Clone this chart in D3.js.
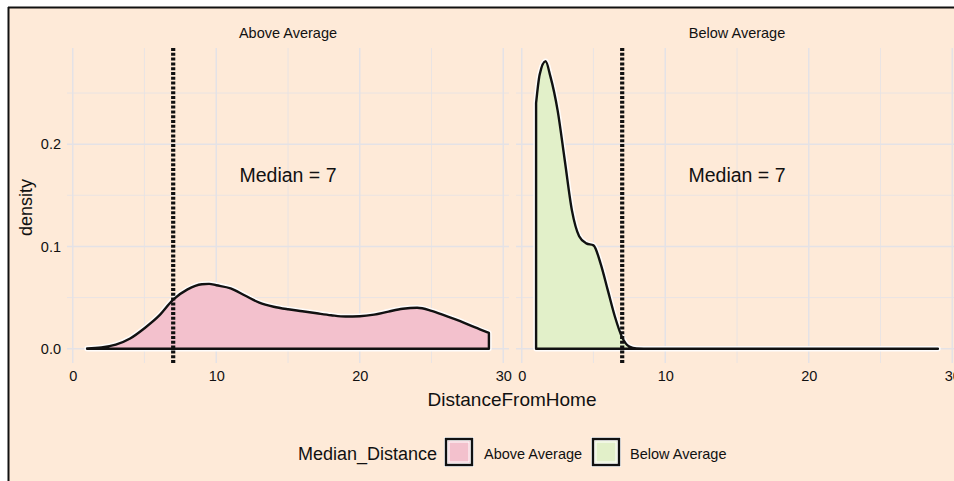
<!DOCTYPE html>
<html>
<head>
<meta charset="utf-8">
<script src="https://cdn.jsdelivr.net/npm/d3@7"></script>
<style>
  html, body { margin: 0; padding: 0; background: #ffffff; }
  svg { display: block; }
  text { font-family: "Liberation Sans", Arial, Helvetica, sans-serif; fill: #111; }
</style>
</head>
<body>
<svg id="chart" width="954" height="481"></svg>
<script>
// ---------------- DATA ----------------
const panels = ["Above Average", "Below Average"];
const medians = [7, 7];
const medianLabels = ["Median = 7", "Median = 7"];

const aboveX = [1, 2, 3, 4, 5, 6, 7, 8, 9, 9.5, 10, 11, 12, 13, 14, 15, 16, 17, 18, 19, 20, 21, 22, 23, 24, 25, 26, 27, 28, 29];
const aboveY = [0.0003, 0.0012, 0.004, 0.010, 0.020, 0.032, 0.048, 0.058, 0.063, 0.0634, 0.062, 0.059, 0.052, 0.045, 0.041, 0.0385, 0.0366, 0.0346, 0.0327, 0.0314, 0.0317, 0.0333, 0.0363, 0.039, 0.040, 0.037, 0.032, 0.027, 0.021, 0.0154];

const belowX = [1, 1.25, 1.66, 2, 2.5, 3, 3.5, 4, 4.5, 5, 5.5, 6, 6.5, 7, 7.5, 8, 9, 10, 12, 15, 20, 25, 29];
const belowY = [0.240, 0.268, 0.281, 0.266, 0.233, 0.184, 0.135, 0.110, 0.103, 0.101, 0.083, 0.057, 0.031, 0.011, 0.002, 0.0003, 0, 0, 0, 0, 0, 0, 0];

const xTicks = [0, 10, 20, 30];
const xMinor = [5, 15, 25];
const yTicks = [0.0, 0.1, 0.2];
const yMinor = [0.05, 0.15, 0.25];
const yTickLabels = ["0.0", "0.1", "0.2"];

const fills = ["#f3c1cd", "#e2f0c9"];
const legendTitle = "Median_Distance";
const xTitle = "DistanceFromHome";
const yTitle = "density";

// ---------------- LAYOUT ----------------
const svg = d3.select("#chart");
const W = 954, H = 481;
const bg = "#feead8";
const gridCol = "#e4e2e6";

svg.append("rect").attr("x", 0).attr("y", 0).attr("width", W).attr("height", H).attr("fill", "#ffffff");
svg.append("rect").attr("x", 9).attr("y", 8).attr("width", W - 9).attr("height", H - 8).attr("fill", bg);
svg.append("line").attr("x1", 8).attr("x2", W).attr("y1", 7.5).attr("y2", 7.5).attr("stroke", "#111").attr("stroke-width", 2);
svg.append("line").attr("x1", 8.5).attr("x2", 8.5).attr("y1", 7).attr("y2", H).attr("stroke", "#111").attr("stroke-width", 2);

const panelTop = 48, panelBottom = 363;
const panelLefts = [67, 516];
const panelWidth = 442;
const xDomain = [-0.4, 30.4];
const yDomain = [-0.014, 0.294];

const y = d3.scaleLinear().domain(yDomain).range([panelBottom, panelTop]);

const data = [
  aboveX.map((v, i) => ({x: v, y: aboveY[i]})),
  belowX.map((v, i) => ({x: v, y: belowY[i]}))
];

panels.forEach((name, p) => {
  const x = d3.scaleLinear().domain(xDomain).range([panelLefts[p], panelLefts[p] + panelWidth]);
  const g = svg.append("g");

  // minor grid
  xMinor.forEach(t => g.append("line").attr("x1", x(t)).attr("x2", x(t)).attr("y1", panelTop).attr("y2", panelBottom)
    .attr("stroke", gridCol).attr("stroke-width", 0.8));
  yMinor.forEach(t => g.append("line").attr("x1", x.range()[0]).attr("x2", x.range()[1]).attr("y1", y(t)).attr("y2", y(t))
    .attr("stroke", gridCol).attr("stroke-width", 0.8));
  // major grid
  xTicks.forEach(t => g.append("line").attr("x1", x(t)).attr("x2", x(t)).attr("y1", panelTop).attr("y2", panelBottom)
    .attr("stroke", gridCol).attr("stroke-width", 1.5));
  yTicks.forEach(t => g.append("line").attr("x1", x.range()[0]).attr("x2", x.range()[1]).attr("y1", y(t)).attr("y2", y(t))
    .attr("stroke", gridCol).attr("stroke-width", 1.5));

  // density
  const area = d3.area().x(d => x(d.x)).y0(y(0)).y1(d => y(d.y)).curve(d3.curveMonotoneX);
  const pathD = area(data[p]);
  g.append("path").attr("d", pathD).attr("fill", fills[p]).attr("stroke", "#ffffff").attr("stroke-width", 5.5).attr("stroke-linejoin", "round").attr("opacity", 0.9);
  g.append("path").attr("d", pathD).attr("fill", fills[p]).attr("stroke", "#111").attr("stroke-width", 2.4).attr("stroke-linejoin", "round");

  // median line
  g.append("line").attr("x1", x(medians[p])).attr("x2", x(medians[p])).attr("y1", panelTop).attr("y2", panelBottom)
    .attr("stroke", "#111").attr("stroke-width", 4.2).attr("stroke-dasharray", "3 1.8");

  // median label
  g.append("text").attr("x", (x.range()[0] + x.range()[1]) / 2).attr("y", 182)
    .attr("text-anchor", "middle").attr("font-size", 19.5).text(medianLabels[p]);

  // strip
  g.append("text").attr("x", (x.range()[0] + x.range()[1]) / 2).attr("y", 37.5)
    .attr("text-anchor", "middle").attr("font-size", 14.5).text(name);

  // x axis labels
  const xAxis = d3.axisBottom(x).tickValues(xTicks).tickSize(0).tickPadding(0).tickFormat(d3.format("d"));
  const ax = svg.append("g").attr("transform", `translate(0,${panelBottom + 8})`).call(xAxis);
  ax.select(".domain").remove();
  ax.selectAll("text").attr("font-size", 14.5).attr("fill", "#111").attr("dy", "0.71em")
    .style("font-family", "'Liberation Sans', Arial, sans-serif");
});

// y axis labels
const yAxis = d3.axisLeft(y).tickValues(yTicks).tickSize(0).tickPadding(0).tickFormat((d, i) => yTickLabels[i]);
const ay = svg.append("g").attr("transform", `translate(61,0)`).call(yAxis);
ay.select(".domain").remove();
ay.selectAll("text").attr("font-size", 14.5).attr("fill", "#111").style("font-family", "'Liberation Sans', Arial, sans-serif");

// axis titles
svg.append("text").attr("transform", `translate(32,${(panelTop + panelBottom) / 2 + 2}) rotate(-90)`)
  .attr("text-anchor", "middle").attr("font-size", 18).text(yTitle);
svg.append("text").attr("x", 512).attr("y", 406).attr("text-anchor", "middle").attr("font-size", 19).text(xTitle);

// legend
const lg = svg.append("g");
lg.append("text").attr("x", 298).attr("y", 459.5).attr("font-size", 18).text(legendTitle);
const keyX = [445, 592];
const labX = [484, 630];
panels.forEach((name, i) => {
  lg.append("rect").attr("x", keyX[i] + 1).attr("y", 439).attr("width", 26).attr("height", 26)
    .attr("fill", fills[i]).attr("stroke", "#ffffff").attr("stroke-width", 4);
  lg.append("rect").attr("x", keyX[i] + 1).attr("y", 439).attr("width", 26).attr("height", 26)
    .attr("fill", "none").attr("stroke", "#111").attr("stroke-width", 2.4);
  lg.append("rect").attr("x", keyX[i] + 4).attr("y", 442).attr("width", 20).attr("height", 20)
    .attr("fill", fills[i]).attr("stroke", "#fff").attr("stroke-width", 1);
  lg.append("text").attr("x", labX[i]).attr("y", 458.5).attr("font-size", 14.5).text(name);
});
</script>
</body>
</html>
